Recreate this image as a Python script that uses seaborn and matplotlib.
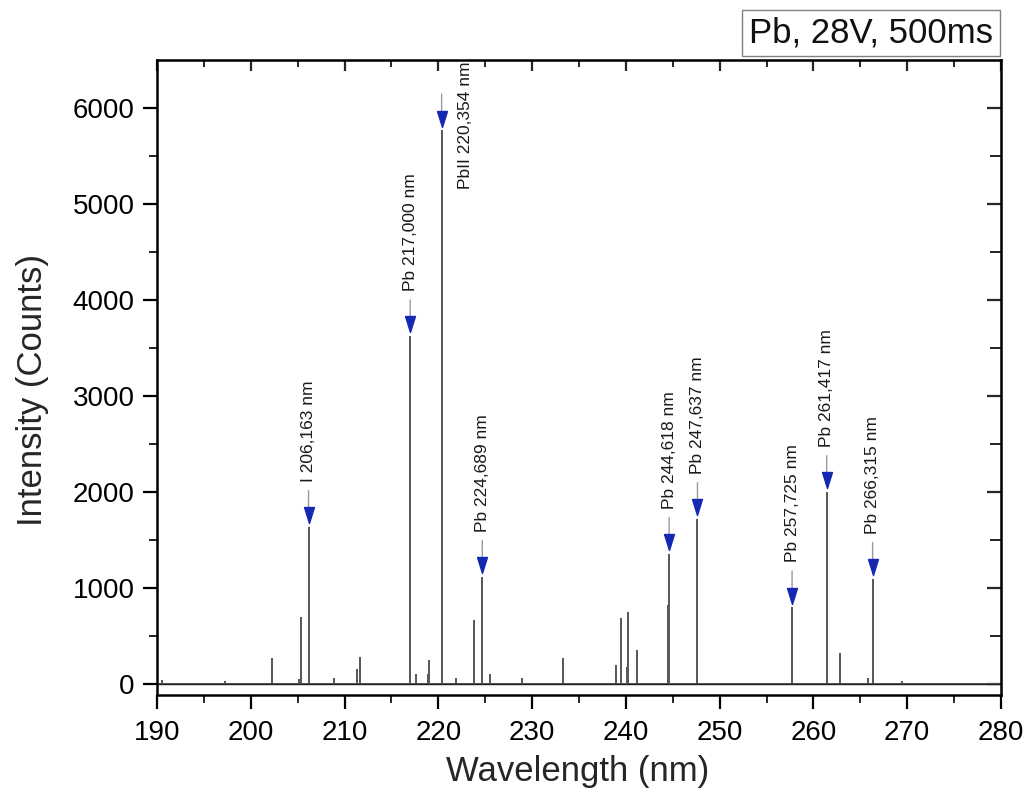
import numpy as np
import pandas as pd
import matplotlib
matplotlib.use("Agg")
import matplotlib.pyplot as plt
import matplotlib.transforms as mtransforms
import seaborn as sns

# ---------------- data ----------------
peak_wl = [190.5, 197.3, 202.3, 205.1, 205.4, 206.163, 208.9, 211.3, 211.6,
           217.000, 217.65, 218.9, 219.0, 220.354, 221.9, 223.8, 224.689,
           225.55, 228.9, 233.3, 238.9, 239.5, 240.07, 240.2, 241.2, 244.45,
           244.618, 247.637, 257.725, 261.417, 262.8, 265.8, 266.315, 269.5]
peak_int = [35, 25, 267, 50, 693, 1632, 60, 150, 273,
            3617, 95, 100, 240, 5760, 60, 658, 1112,
            100, 60, 260, 188, 685, 166, 745, 346, 815,
            1351, 1715, 795, 1996, 316, 60, 1091, 20]
baseline = 8

ann_wl = [206.163, 217.000, 220.354, 224.689, 244.618, 247.637, 257.725, 261.417, 266.315]
ann_label = ["I 206,163 nm", "Pb 217,000 nm", "PbII 220,354 nm", "Pb 224,689 nm",
             "Pb 244,618 nm", "Pb 247,637 nm", "Pb 257,725 nm", "Pb 261,417 nm",
             "Pb 266,315 nm"]

x_ticks = [190, 200, 210, 220, 230, 240, 250, 260, 270, 280]
y_ticks = [0, 1000, 2000, 3000, 4000, 5000, 6000]
box_text = "Pb, 28V, 500ms"

# ---------------- style ----------------
sns.set_style("ticks")
plt.rcParams['font.family'] = ['Liberation Sans', 'DejaVu Sans']

fig = plt.figure(figsize=(10.3, 7.97), dpi=100)
ax = fig.add_axes([0.1524, 0.128, 0.8194, 0.7967])

# stick spectrum: baseline -> peak -> baseline for each line
order = np.argsort(peak_wl)
xs = [x_ticks[0]]
ys = [baseline]
for i in order:
    xs += [peak_wl[i], peak_wl[i], peak_wl[i]]
    ys += [baseline, peak_int[i], baseline]
xs.append(x_ticks[-1])
ys.append(baseline)
spec = pd.DataFrame({"wl": xs, "inten": ys})
sns.lineplot(data=spec, x="wl", y="inten", sort=False, estimator=None,
             color="#5a5a5a", lw=1.4, ax=ax)
sns.lineplot(x=[x_ticks[0], x_ticks[-1]], y=[baseline, baseline],
             color="#222222", lw=1.0, ax=ax)

ax.set_xlim(190, 280)
ax.set_ylim(-110, 6500)
ax.set_xticks(x_ticks)
ax.set_yticks(y_ticks)
ax.set_xticks(np.arange(195, 280, 10), minor=True)
ax.set_yticks(np.arange(500, 6500, 1000), minor=True)

for s in ax.spines.values():
    s.set_linewidth(1.8)
    s.set_color("black")
ax.tick_params(axis="both", which="major", direction="out", length=10, width=1.6,
               labelsize=20, pad=6, colors="black")
ax.tick_params(axis="both", which="minor", direction="out", length=5.5, width=1.4)
ax.tick_params(axis="x", pad=8)

# inward ticks on top and right
top = ax.secondary_xaxis("top")
top.set_xticks(x_ticks)
top.set_xticks(np.arange(195, 280, 10), minor=True)
top.tick_params(which="major", direction="in", length=8, width=1.6, labeltop=False)
top.tick_params(which="minor", direction="in", length=5, width=1.4)
top.set_xticklabels([])
right = ax.secondary_yaxis("right")
right.set_yticks(y_ticks)
right.set_yticks(np.arange(500, 6500, 1000), minor=True)
right.tick_params(which="major", direction="in", length=10, width=1.6)
right.tick_params(which="minor", direction="in", length=8, width=1.4)
right.set_yticklabels([])

ax.set_xlabel("Wavelength (nm)", fontsize=25)
ax.set_ylabel("Intensity (Counts)", fontsize=25)
ax.xaxis.set_label_coords(0.499, -0.094)
ax.yaxis.set_label_coords(-0.128, 0.48)

# annotations
px = 72.0 / fig.dpi  # points per pixel
tri = [(-0.62, 1.0), (0.62, 1.0), (0.0, -1.0), (-0.62, 1.0)]
lookup = dict(zip(peak_wl, peak_int))
for wl, lab in zip(ann_wl, ann_label):
    top_i = lookup[wl]
    head_off = 12.5 * px
    tr_head = mtransforms.offset_copy(ax.transData, fig=fig, x=0, y=head_off, units="points")
    ax.plot([wl], [top_i], marker=tri, markersize=16 * px, color="#1428b4",
            mec="#1428b4", transform=tr_head, zorder=5, ls="none")
    tr0 = mtransforms.offset_copy(ax.transData, fig=fig, x=0, y=20 * px, units="points")
    ax.annotate("", xy=(wl, top_i), xycoords=tr0,
                xytext=(0, 17 * px), textcoords="offset points",
                arrowprops=dict(arrowstyle="-", color="#9a9a9a", lw=1.0,
                                shrinkA=0, shrinkB=0))
    if lab.startswith("PbII"):
        ax.annotate(lab, xy=(wl, 6480), xytext=(24 * px, 0), textcoords="offset points",
                    rotation=90, ha="center", va="top", fontsize=12.5, color="#1a1a1a")
    else:
        ax.annotate(lab, xy=(wl, top_i), xytext=(0, 46 * px), textcoords="offset points",
                    rotation=90, ha="center", va="bottom", fontsize=12.5, color="#1a1a1a")

fig.text(0.8456, 0.9586, box_text, fontsize=25, ha="center", va="center",
         color="#111111",
         bbox=dict(boxstyle="square,pad=0.2", fc="white", ec="#808080", lw=1.0))

fig.savefig("out.png", dpi=100)
